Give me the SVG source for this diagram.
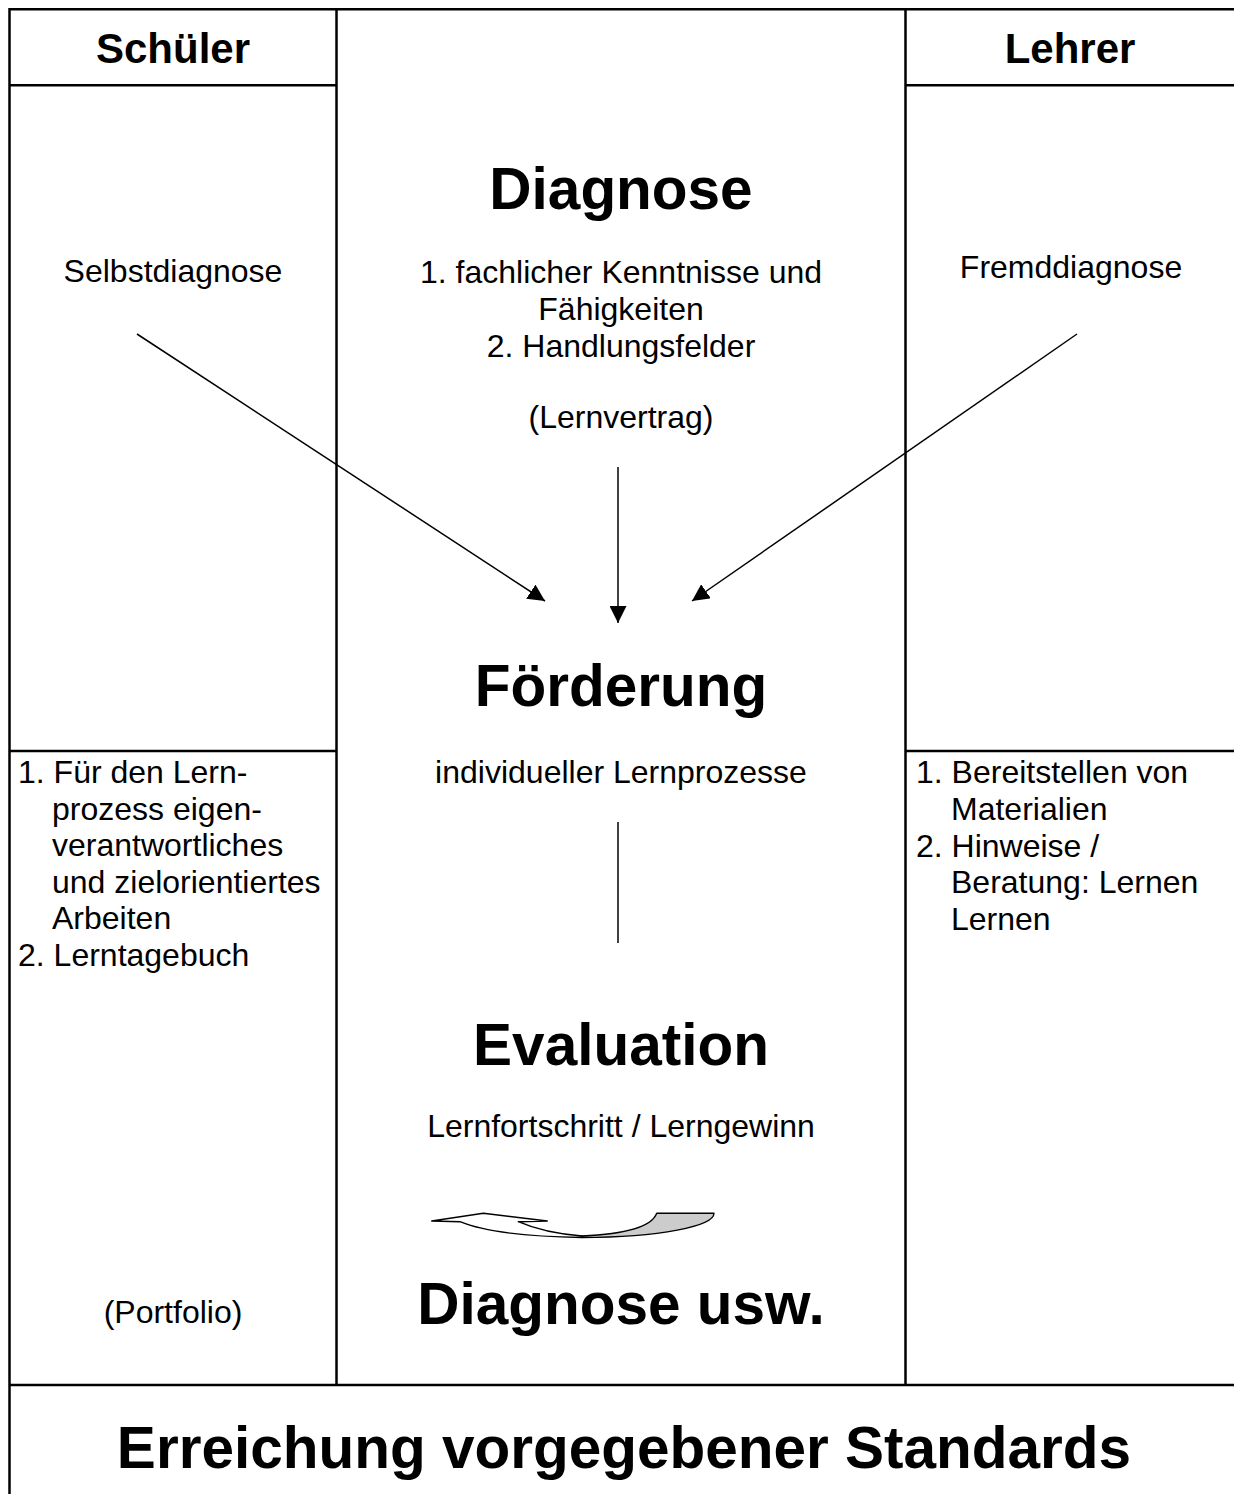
<svg xmlns="http://www.w3.org/2000/svg" width="1234" height="1494" viewBox="0 0 1234 1494">
<style>
.grid{stroke:#000;stroke-width:2.5;fill:none}
.conn{stroke:#000;stroke-width:1.5;fill:none}
.t{font-family:"Liberation Sans",Arial,sans-serif;fill:#000}
.r{font-size:32px}
.h{font-size:42px;font-weight:bold}
.b{font-size:58.5px;font-weight:bold}
.c{text-anchor:middle}
</style>
<defs>
<marker id="ah" markerWidth="18" markerHeight="17" refX="17" refY="8.5" orient="auto" markerUnits="userSpaceOnUse">
<path d="M0,0 L17,8.5 L0,17 Z" fill="#000"/>
</marker>
</defs>
<rect width="1234" height="1494" fill="#fff"/>
<g id="grid">
<line class="grid" x1="9.5" y1="9.3" x2="1234" y2="9.3"/>
<line class="grid" x1="9.5" y1="8" x2="9.5" y2="1494"/>
<line class="grid" x1="336.5" y1="9.3" x2="336.5" y2="1385"/>
<line class="grid" x1="905.5" y1="9.3" x2="905.5" y2="1385"/>
<line class="grid" x1="9.5" y1="85.3" x2="336.5" y2="85.3"/>
<line class="grid" x1="905.5" y1="85.3" x2="1234" y2="85.3"/>
<line class="grid" x1="9.5" y1="751" x2="336.5" y2="751"/>
<line class="grid" x1="905.5" y1="751" x2="1234" y2="751"/>
<line class="grid" x1="9.5" y1="1385" x2="1234" y2="1385"/>
</g>
<g id="schueler-header"><text class="t h c" x="173" y="63">Schüler</text></g>
<g id="lehrer-header"><text class="t h c" x="1070" y="63">Lehrer</text></g>
<g id="selbstdiagnose"><text class="t r c" x="173" y="282">Selbstdiagnose</text></g>
<g id="fremddiagnose"><text class="t r c" x="1071" y="278">Fremddiagnose</text></g>
<g id="diagnose">
<text class="t b c" x="621" y="209">Diagnose</text>
<text class="t r c" x="621" y="283">1. fachlicher Kenntnisse und</text>
<text class="t r c" x="621" y="320">Fähigkeiten</text>
<text class="t r c" x="621" y="357">2. Handlungsfelder</text>
<text class="t r c" x="621" y="428">(Lernvertrag)</text>
</g>
<g id="foerderung">
<text class="t b c" x="621" y="706">Förderung</text>
<text class="t r c" x="621" y="783">individueller Lernprozesse</text>
</g>
<g id="schueler-list">
<text class="t r" x="18" y="783">1. Für den Lern-</text>
<text class="t r" x="52" y="819.5">prozess eigen-</text>
<text class="t r" x="52" y="856">verantwortliches</text>
<text class="t r" x="52" y="892.5">und zielorientiertes</text>
<text class="t r" x="52" y="929">Arbeiten</text>
<text class="t r" x="18" y="965.5">2. Lerntagebuch</text>
</g>
<g id="lehrer-list">
<text class="t r" x="916" y="783">1. Bereitstellen von</text>
<text class="t r" x="951" y="820">Materialien</text>
<text class="t r" x="916" y="857">2. Hinweise /</text>
<text class="t r" x="951" y="893">Beratung: Lernen</text>
<text class="t r" x="951" y="930">Lernen</text>
</g>
<g id="evaluation">
<text class="t b c" x="621" y="1065">Evaluation</text>
<text class="t r c" x="621" y="1137">Lernfortschritt / Lerngewinn</text>
</g>
<g id="diagnose-usw"><text class="t b c" x="621" y="1324">Diagnose usw.</text></g>
<g id="portfolio"><text class="t r c" x="173" y="1323">(Portfolio)</text></g>
<g id="standards"><text class="t b c" x="624" y="1468">Erreichung vorgegebener Standards</text></g>
<g id="connectors">
<line class="conn" x1="137" y1="334" x2="545" y2="601" marker-end="url(#ah)"/>
<line class="conn" x1="618" y1="467" x2="618" y2="623" marker-end="url(#ah)"/>
<line class="conn" x1="1077" y1="334" x2="692" y2="601" marker-end="url(#ah)"/>
<line class="conn" x1="618" y1="822" x2="618" y2="943"/>
<g id="curved-arrow" stroke="#000" stroke-width="1.4" stroke-linejoin="round">
<path d="M582,1236 C630,1234 652,1226 656.7,1213.3 L714,1213.3 C714,1226 660,1237.5 582,1237.5 Z" fill="#ccc"/>
<path d="M431.7,1221 L483.3,1213.3 L547.3,1221 L518.3,1221.7 C535,1229 555,1234 582,1236 L582,1237.5 C520,1236.5 480,1230 460,1221.7 Z" fill="#fff"/>
</g>
</g>
</svg>
